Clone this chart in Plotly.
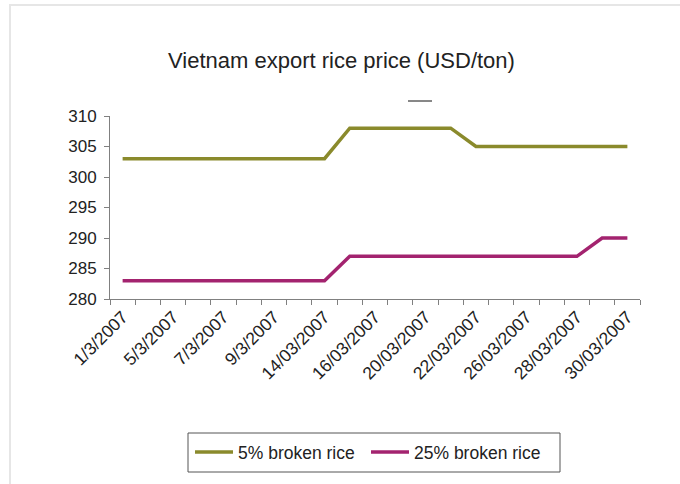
import plotly.graph_objects as go

# ---- data ----
categories = ["1/3/2007", "2/3/2007", "5/3/2007", "6/3/2007", "7/3/2007", "8/3/2007",
              "9/3/2007", "12/03/2007", "14/03/2007", "15/03/2007", "16/03/2007",
              "19/03/2007", "20/03/2007", "21/03/2007", "22/03/2007", "23/03/2007",
              "26/03/2007", "27/03/2007", "28/03/2007", "29/03/2007", "30/03/2007"]
tick_labels = ["1/3/2007", "", "5/3/2007", "", "7/3/2007", "", "9/3/2007", "",
               "14/03/2007", "", "16/03/2007", "", "20/03/2007", "", "22/03/2007", "",
               "26/03/2007", "", "28/03/2007", "", "30/03/2007"]
broken5 = [303, 303, 303, 303, 303, 303, 303, 303, 303, 308, 308, 308, 308, 308,
           305, 305, 305, 305, 305, 305, 305]
broken25 = [283, 283, 283, 283, 283, 283, 283, 283, 283, 287, 287, 287, 287, 287,
            287, 287, 287, 287, 287, 290, 290]
series_names = ["5% broken rice", "25% broken rice"]
y_ticks = [280, 285, 290, 295, 300, 305, 310]

# ---- layout geometry ----
W, H = 680, 484
L, R, T, B = 110, 40, 116, 185
pw, ph = W - L - R, H - T - B

def px(x):
    return (x - L) / pw

def py(y):
    return (H - B - y) / ph

FONT = "Liberation Sans, Arial, sans-serif"
OLIVE = "#8a8a2c"
MAGENTA = "#a3236f"

fig = go.Figure()
fig.add_trace(go.Scatter(x=categories, y=broken5, mode="lines", name=series_names[0],
                         line=dict(color=OLIVE, width=3.5), hoverinfo="skip"))
fig.add_trace(go.Scatter(x=categories, y=broken25, mode="lines", name=series_names[1],
                         line=dict(color=MAGENTA, width=3.5), hoverinfo="skip"))

fig.update_layout(
    width=W, height=H, autosize=False,
    margin=dict(l=L, r=R, t=T, b=B, pad=0),
    paper_bgcolor="white", plot_bgcolor="white",
    font=dict(family=FONT, color="#222222", size=17),
    title=dict(text="Vietnam export rice price (USD/ton)", x=px(341.5), xanchor="center",
               xref="paper", y=(H - 60) / H, yanchor="middle",
               font=dict(size=22, family=FONT, color="#222222")),
    xaxis=dict(type="category", categoryorder="array", categoryarray=categories,
               range=[-0.5, len(categories) - 0.5],
               tickmode="array", tickvals=categories, ticktext=tick_labels,
               tickson="boundaries", ticks="outside", ticklen=5, tickwidth=1,
               tickcolor="#808080", showline=True, linecolor="#808080", linewidth=1,
               showgrid=False, zeroline=False, tickangle=-45,
               tickfont=dict(size=17.5, family=FONT, color="#222222")),
    yaxis=dict(range=[280, 310], tickmode="array", tickvals=y_ticks,
               ticks="outside", ticklen=5, tickwidth=1, tickcolor="#808080",
               showline=True, linecolor="#808080", linewidth=1,
               showgrid=False, zeroline=False, ticklabelstandoff=4,
               tickfont=dict(size=17, family=FONT, color="#222222")),
    showlegend=True,
    legend=dict(orientation="h", x=px(190), y=py(434), xanchor="left", yanchor="top",
                bgcolor="rgba(0,0,0,0)", borderwidth=0,
                font=dict(size=17.5, family=FONT, color="#222222"),
                entrywidth=123, entrywidthmode="pixels", itemwidth=38),
    hovermode=False,
    shapes=[
        # legend box
        dict(type="rect", xref="paper", yref="paper", x0=px(188), x1=px(560),
             y0=py(433), y1=py(472), line=dict(color="#555555", width=1)),
        # outer frame (top and left edges visible)
        dict(type="line", xref="paper", yref="paper", x0=px(9), x1=px(680),
             y0=py(5), y1=py(5), line=dict(color="#e6e6e6", width=2)),
        dict(type="line", xref="paper", yref="paper", x0=px(10), x1=px(10),
             y0=py(5), y1=py(484), line=dict(color="#e6e6e6", width=2)),
        # small stray dash under the title
        dict(type="line", xref="paper", yref="paper", x0=px(408), x1=px(432),
             y0=py(101), y1=py(101), line=dict(color="#111111", width=1)),
    ],
)

fig.write_html("out.html", config={"displayModeBar": False, "staticPlot": True},
               post_script="document.body.style.margin='0';document.body.style.overflow='hidden';")
